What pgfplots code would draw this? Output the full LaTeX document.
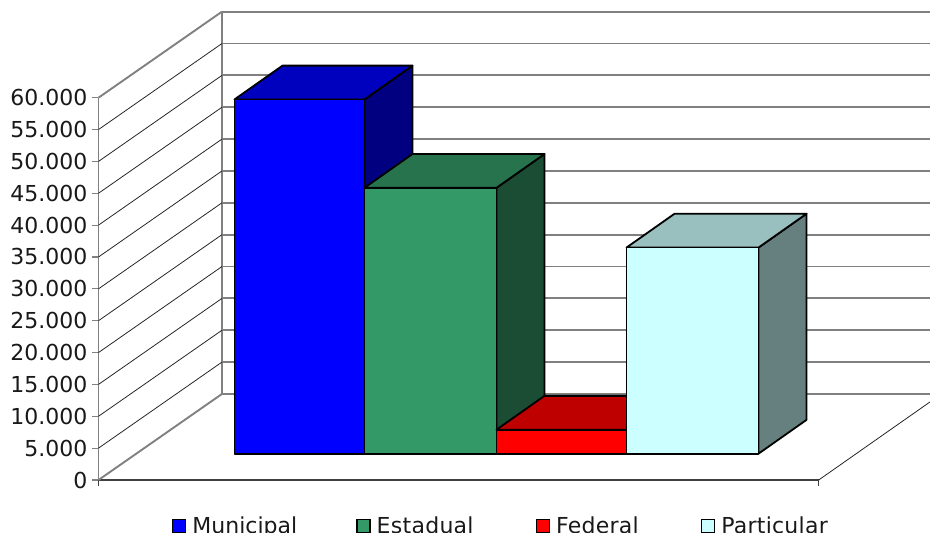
\documentclass[border=0pt]{standalone}
\usepackage{fontspec}
\setmainfont{DejaVu Sans}
\newfontfamily\lsp[LetterSpace=1.2]{DejaVu Sans}
\usepackage{pgfplots}
\pgfplotsset{compat=1.18}
\definecolor{wall}{HTML}{808080}
\definecolor{axdark}{HTML}{404040}
\definecolor{muF}{HTML}{0000FF}\definecolor{muT}{HTML}{0000BF}\definecolor{muS}{HTML}{000080}
\definecolor{esF}{HTML}{339966}\definecolor{esT}{HTML}{26734D}\definecolor{esS}{HTML}{1A4D33}
\definecolor{feF}{HTML}{FF0000}\definecolor{feT}{HTML}{BF0000}\definecolor{feS}{HTML}{800000}
\definecolor{paF}{HTML}{CCFFFF}\definecolor{paT}{HTML}{99BFBF}\definecolor{paS}{HTML}{668080}
\pgfplotsset{
  back/.style={draw=wall,line width=1.9pt,forget plot},
  diag/.style={draw=black!85,line width=0.8pt,forget plot},
  wallb/.style={draw=wall,line width=1.9pt,forget plot},
  face/.style={draw=black,line width=1.8pt,line join=round,fill=#1,forget plot,yshift=26.3pt},
}
\begin{document}
\begin{tikzpicture}
\useasboundingbox (0pt,0pt) rectangle (930pt,533pt);
\begin{axis}[
  at={(98.5pt,53pt)},anchor=south west,
  scale only axis,width=720.2pt,height=382.3pt,
  xmin=98.5,xmax=818.7,ymin=0,ymax=60000,
  clip=false,
  axis x line*=bottom,axis y line*=left,
  x axis line style={draw=axdark,line width=1.5pt,-},
  y axis line style={draw=wall,line width=1.5pt,-},
  xtick={98.5,818.7},xticklabels={},
  ytick={0,5000,10000,15000,20000,25000,30000,35000,40000,45000,50000,55000,60000},
  tick align=outside,major tick length=6pt,
  xtick style={draw=axdark,line width=1pt},
  ytick style={draw=wall,line width=1.2pt},
  /pgf/number format/.cd,assume math mode=true,1000 sep={.},fixed,precision=0,/pgfplots/.cd,
  yticklabel style={font=\fontsize{22}{25}\selectfont,text=black!90,inner sep=0pt,xshift=-5pt},
  scaled y ticks=false,
  legend columns=-1,
  legend style={draw=none,fill=none,at={(axis cs:172,-5500)},anchor=north west,inner sep=0pt,outer sep=0pt,
    font=\fontsize{22}{25}\selectfont,text=black!90,
    /tikz/every even column/.append style={column sep=60pt}},
  legend image code/.code={\draw[#1] (0pt,-6.5pt) rectangle (13pt,6.5pt);\path (17pt,0pt);},
]
\addlegendimage{draw=black,line width=1.5pt,fill=muF}\addlegendentry{Municipal\hspace*{-3pt}}
\addlegendimage{draw=black,line width=1.5pt,fill=esF}\addlegendentry{{\lsp Estadual}}
\addlegendimage{draw=black,line width=1.5pt,fill=feF}\addlegendentry{{\lsp Federal}}
\addlegendimage{draw=black,line width=1.5pt,fill=paF}\addlegendentry{{\lsp Particular}}
% back wall
\addplot[back] coordinates {(222,13507)(930,13507)};
\addplot[back] coordinates {(222,18507)(930,18507)};
\addplot[back] coordinates {(222,23507)(930,23507)};
\addplot[back] coordinates {(222,28507)(930,28507)};
\addplot[back] coordinates {(222,33507)(930,33507)};
\addplot[back] coordinates {(222,38507)(930,38507)};
\addplot[back] coordinates {(222,43507)(930,43507)};
\addplot[back] coordinates {(222,48507)(930,48507)};
\addplot[back] coordinates {(222,53507)(930,53507)};
\addplot[back] coordinates {(222,58507)(930,58507)};
\addplot[back] coordinates {(222,63507)(930,63507)};
\addplot[back] coordinates {(222,68507)(930,68507)};
\addplot[back] coordinates {(222,73507)(930,73507)};
\addplot[wallb] coordinates {(222,13507)(222,73507)};
% side wall
\addplot[wallb] coordinates {(98.5,0)(222,13507)};
\addplot[wallb] coordinates {(98.5,60000)(222,73507)};
\addplot[diag] coordinates {(98.5,5000)(222,18507)};
\addplot[diag] coordinates {(98.5,10000)(222,23507)};
\addplot[diag] coordinates {(98.5,15000)(222,28507)};
\addplot[diag] coordinates {(98.5,20000)(222,33507)};
\addplot[diag] coordinates {(98.5,25000)(222,38507)};
\addplot[diag] coordinates {(98.5,30000)(222,43507)};
\addplot[diag] coordinates {(98.5,35000)(222,48507)};
\addplot[diag] coordinates {(98.5,40000)(222,53507)};
\addplot[diag] coordinates {(98.5,45000)(222,58507)};
\addplot[diag] coordinates {(98.5,50000)(222,63507)};
\addplot[diag] coordinates {(98.5,55000)(222,68507)};
% floor edge
\addplot[diag] coordinates {(818.7,0)(930,12250)};
% Municipal
\addplot[face=muS] coordinates {(364.5,0)(412.5,5308)(412.5,60908)(364.5,55600)} --cycle;
\addplot[face=muT] coordinates {(234.5,55600)(282.5,60908)(412.5,60908)(364.5,55600)} --cycle;
\addplot[face=muF] coordinates {(234.5,0)(234.5,55600)(364.5,55600)(364.5,0)} --cycle;
% Estadual
\addplot[face=esS] coordinates {(496.5,0)(544.5,5308)(544.5,47038)(496.5,41730)} --cycle;
\addplot[face=esT] coordinates {(364.5,41730)(412.5,47038)(544.5,47038)(496.5,41730)} --cycle;
\addplot[face=esF] coordinates {(364.5,0)(364.5,41730)(496.5,41730)(496.5,0)} --cycle;
% Federal
\addplot[face=feS] coordinates {(626.5,0)(674.5,5308)(674.5,9078)(626.5,3770)} --cycle;
\addplot[face=feT] coordinates {(496.5,3770)(544.5,9078)(674.5,9078)(626.5,3770)} --cycle;
\addplot[face=feF] coordinates {(496.5,0)(496.5,3770)(626.5,3770)(626.5,0)} --cycle;
% Particular
\addplot[face=paS] coordinates {(758.5,0)(806.5,5308)(806.5,37658)(758.5,32350)} --cycle;
\addplot[face=paT] coordinates {(626.5,32350)(674.5,37658)(806.5,37658)(758.5,32350)} --cycle;
\addplot[face=paF] coordinates {(626.5,0)(626.5,32350)(758.5,32350)(758.5,0)} --cycle;
\end{axis}
\end{tikzpicture}
\end{document}
